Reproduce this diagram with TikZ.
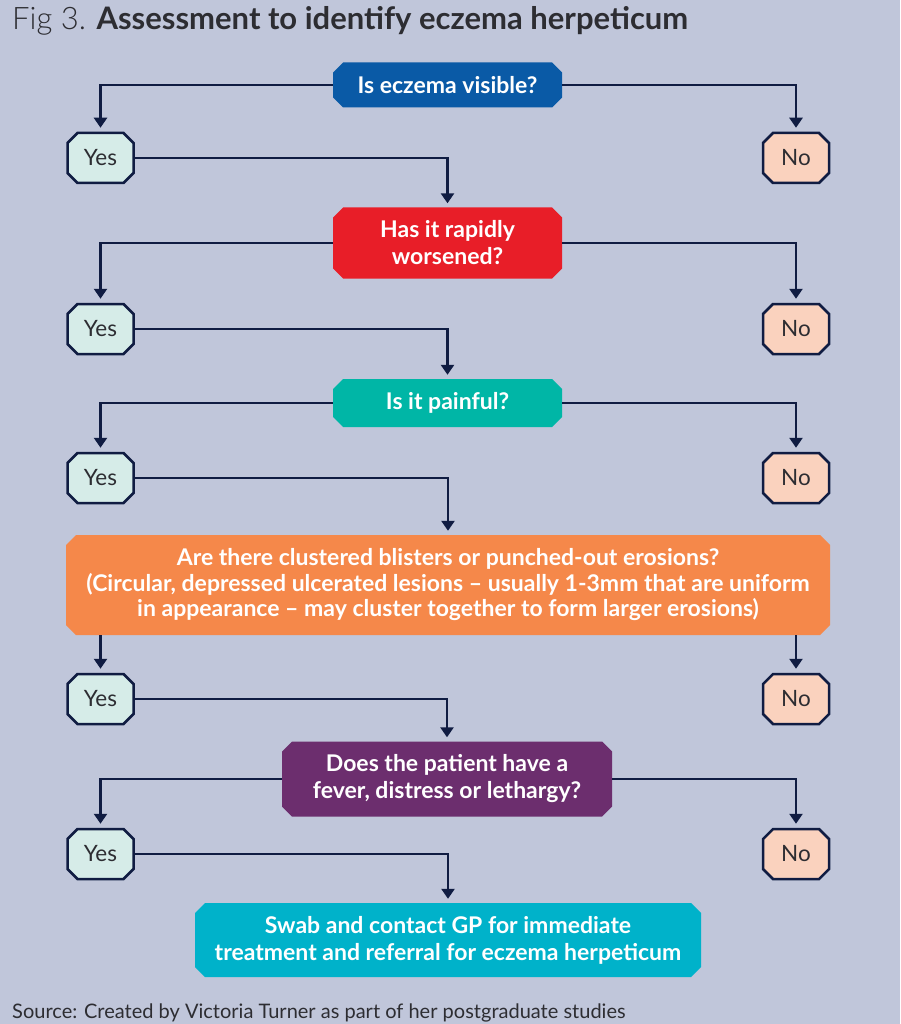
\documentclass[tikz,border=0pt]{standalone}
\usepackage{fontspec}
\setmainfont{Lato}
\newfontfamily\latolight{Lato Light}
\usetikzlibrary{shapes.misc,arrows.meta}
\definecolor{bg}{RGB}{192,198,218}
\definecolor{navy}{RGB}{16,28,66}
\definecolor{qblue}{RGB}{10,90,166}
\definecolor{qred}{RGB}{232,30,40}
\definecolor{qteal}{RGB}{0,182,166}
\definecolor{qorange}{RGB}{245,136,74}
\definecolor{qpurple}{RGB}{108,46,110}
\definecolor{qcyan}{RGB}{0,178,202}
\definecolor{yesfill}{RGB}{214,236,232}
\definecolor{nofill}{RGB}{250,210,190}
\definecolor{txtgray}{RGB}{45,45,50}
\tikzset{
  qbox/.style={chamfered rectangle, chamfered rectangle xsep=5pt, chamfered rectangle ysep=5pt,
    inner sep=0pt, text=white, font=\fontsize{23}{27}\selectfont\bfseries, align=center},
  ansbox/.style={chamfered rectangle, chamfered rectangle xsep=5pt, chamfered rectangle ysep=5pt,
    draw=navy, line width=2.5pt, inner sep=0pt, minimum width=66pt, minimum height=50pt,
    text=txtgray, font=\fontsize{22.5}{26}\selectfont},
  yesbox/.style={ansbox, fill=yesfill},
  nobox/.style={ansbox, fill=nofill},
  conn/.style={draw=navy, line width=2.5pt, -{Triangle[width=13pt,length=10pt]}, shorten >=4pt},
}
\begin{document}
\begin{tikzpicture}[x=1pt,y=-1pt]
\fill[bg] (0,0) rectangle (900,1024);
\useasboundingbox (0,0) rectangle (900,1024);

\node[anchor=base west, inner sep=0pt, text=txtgray, font=\fontsize{31}{34}\selectfont] (title) at (12,30)
  {{\latolight Fig 3.} \textbf{Assessment to identify eczema herpeticum}};

% questions
\node[qbox, fill=qblue, minimum width=229pt, minimum height=45pt] (q1) at (447.5,85) {Is eczema visible?};
\node[qbox, fill=qred, minimum width=229pt, minimum height=71pt] (q2) at (447.5,243) {Has it rapidly\\worsened?};
\node[qbox, fill=qteal, minimum width=229pt, minimum height=48pt] (q3) at (447.5,403) {Is it painful?};
\node[qbox, fill=qorange, minimum width=764pt, minimum height=100pt, font=\fontsize{23}{25.5}\selectfont\bfseries] (q4) at (448,585)
  {Are there clustered blisters or punched-out erosions?\\(Circular, depressed ulcerated lesions -- usually 1-3mm that are uniform\\in appearance -- may cluster together to form larger erosions)};
\node[qbox, fill=qpurple, minimum width=330pt, minimum height=75pt] (q5) at (447,779) {Does the patient have a\\fever, distress or lethargy?};
\node[qbox, fill=qcyan, minimum width=506pt, minimum height=74pt] (q6) at (448,940) {Swab and contact GP for immediate\\treatment and referral for eczema herpeticum};

% answers
\node[yesbox] (y1) at (100.5,158) {Yes};
\node[nobox]  (n1) at (796,158) {No};
\node[yesbox] (y2) at (100.5,329) {Yes};
\node[nobox]  (n2) at (796,329) {No};
\node[yesbox] (y3) at (100.5,478) {Yes};
\node[nobox]  (n3) at (796,478) {No};
\node[yesbox] (y4) at (100.5,699) {Yes};
\node[nobox]  (n4) at (796,699) {No};
\node[yesbox] (y5) at (100.5,854) {Yes};
\node[nobox]  (n5) at (796,854) {No};

% connectors
\foreach \q/\y/\n in {q1/y1/n1, q2/y2/n2, q3/y3/n3, q5/y5/n5}{
  \draw[conn] (\q.west) -| (\y.north);
  \draw[conn] (\q.east) -| (\n.north);
}
\draw[conn] (q4.south -| y4.north) -- (y4.north);
\draw[conn] (q4.south -| n4.north) -- (n4.north);

\draw[conn] (y1.east) -| (q2.north);
\draw[conn] (y2.east) -| (q3.north);
\draw[conn] (y3.east) -| (q4.north);
\draw[conn] (y4.east) -| (q5.north);
\draw[conn] (y5.east) -| (q6.north);

\node[anchor=base west, inner sep=0pt, text=txtgray, font=\fontsize{20}{23}\selectfont] (src) at (12,1018)
  {Source: Created by Victoria Turner as part of her postgraduate studies};
\end{tikzpicture}
\end{document}
